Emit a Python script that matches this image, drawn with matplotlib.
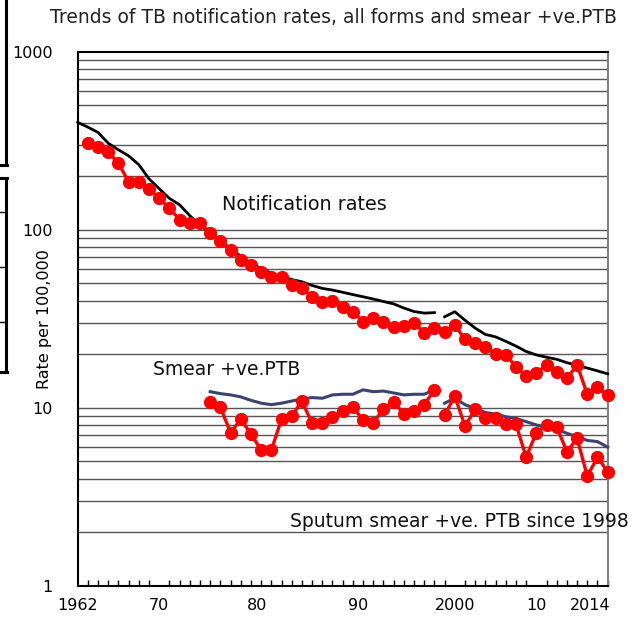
import matplotlib
matplotlib.use('Agg')
import matplotlib.pyplot as plt
from matplotlib.ticker import FixedLocator, MultipleLocator, NullFormatter
from matplotlib.lines import Line2D

# notification rates, all forms (black line, two definitions)
years_all_old = list(range(1962, 1998))
rate_all_old = [401, 377, 352, 306, 281, 260, 232, 193, 170, 150,
                138, 120, 106, 96, 87, 78, 71, 65, 60.5, 57,
                54.5, 52.5, 51.0, 48.6, 46.8, 45.8, 44.5, 43.2, 42.0, 40.8,
                39.5, 38.3, 36.3, 34.7, 34.0, 34.2]
years_all_new = list(range(1998, 2015))
rate_all_new = [32.4, 34.6, 31.0, 28.0, 25.8, 25.0, 23.6, 22.2, 20.7, 19.8,
                19.2, 18.7, 17.9, 17.3, 16.7, 16.1, 15.5]

# notification rates, all forms (red dots)
years_red_all = list(range(1963, 2015))
red_all = [306, 292, 274, 236, 186, 186, 169, 150, 132, 114,
           109, 109, 96, 86.7, 76.9, 67.6, 63.4, 58.1, 54.5, 54.5,
           48.9, 46.9, 42.1, 39.0, 39.8, 37.0, 34.6, 30.4, 31.8, 30.4,
           28.5, 28.7, 30.1, 26.4, 27.9, 26.7, 29.2, 24.2, 23.0, 22.0,
           20.0, 19.8, 17.0, 15.1, 15.6, 17.4, 15.9, 14.6, 17.4, 11.9,
           13.0, 11.8]

# smear +ve PTB (blue line)
years_sm_old = list(range(1975, 1998))
blue_sm_old = [12.3, 12.0, 11.8, 11.5, 11.0, 10.6, 10.4, 10.6, 10.9, 11.2,
               11.4, 11.3, 11.8, 11.9, 11.9, 12.6, 12.3, 12.4, 12.1, 11.8,
               11.9, 11.9, 12.6]
years_sm_new = list(range(1998, 2015))
blue_sm_new = [10.6, 11.3, 10.4, 9.9, 9.4, 9.2, 8.9, 8.7, 8.35, 8.0,
               7.76, 7.55, 7.18, 6.87, 6.55, 6.45, 6.0]

# smear +ve PTB (red dots)
red_sm_old = [10.7, 10.05, 7.24, 8.61, 7.12, 5.78, 5.78, 8.61, 8.98, 10.9,
              8.17, 8.25, 8.83, 9.62, 10.05, 8.53, 8.25, 9.79, 10.8, 9.20,
              9.62, 10.4, 12.6]
red_sm_new = [9.09, 11.6, 7.89, 9.8, 8.7, 8.8, 8.1, 8.1, 5.26, 7.24,
              8.0, 7.8, 5.66, 6.72, 4.13, 5.26, 4.37]

xtick_pos = [1962, 1970, 1979.6, 1989.5, 1999, 2007, 2012.3]
xtick_labels = ['1962', '70', '80', '90', '2000', '10', '2014']
ytick_vals = [1, 10, 100, 1000]
ytick_labels = ['1', '10', '100', '1000']

fig = plt.figure(figsize=(6.4, 6.18), dpi=100)
ax = fig.add_axes([0.1214, 0.0523, 0.8281, 0.864])

ax.set_yscale('log')
ax.set_ylim(1, 1000)
ax.set_xlim(1962, 2014)

# horizontal grid on every minor level
for dec in [1, 10, 100]:
    for m in range(1, 10):
        v = dec * m
        if v == 1:
            continue
        ax.axhline(v, color='#555555', lw=1.0, zorder=0)

red = '#ff0000'
navy = '#3d4270'

ax.plot(years_all_old, rate_all_old, color='black', lw=2.0, zorder=3,
        clip_on=False)
ax.plot(years_all_new, rate_all_new, color='black', lw=2.0, zorder=3,
        clip_on=False)
ax.plot(years_red_all, red_all, color=red, lw=2.4, marker='o',
        markersize=8.5, zorder=4, clip_on=False)

ax.plot(years_sm_old, blue_sm_old, color=navy, lw=2.2, zorder=3)
ax.plot(years_sm_new, blue_sm_new, color=navy, lw=2.2, zorder=3,
        clip_on=False)
ax.plot(years_sm_old, red_sm_old, color=red, lw=2.4, marker='o',
        markersize=8.5, zorder=4)
ax.plot(years_sm_new, red_sm_new, color=red, lw=2.4, marker='o',
        markersize=8.5, zorder=4, clip_on=False)

# axes look
for side in ['left', 'bottom', 'top']:
    ax.spines[side].set_color('black')
    ax.spines[side].set_linewidth(1.5)
ax.spines['right'].set_color('#808080')
ax.spines['right'].set_linewidth(1.5)

ax.yaxis.set_major_locator(FixedLocator(ytick_vals))
ax.yaxis.set_minor_locator(FixedLocator([]))
ax.set_yticklabels(ytick_labels)
ax.yaxis.set_minor_formatter(NullFormatter())
ax.tick_params(axis='y', which='major', length=0, pad=18, labelsize=11.5)

ax.xaxis.set_major_locator(FixedLocator(xtick_pos))
ax.set_xticklabels(xtick_labels)
ax.xaxis.set_minor_locator(MultipleLocator(1))
ax.tick_params(axis='x', which='major', length=0, pad=9, labelsize=11.5)
ax.tick_params(axis='x', which='minor', direction='in', length=4,
               width=1, color='black')

ax.set_ylabel('Rate per 100,000', fontsize=11.5, labelpad=4)
ax.yaxis.set_label_coords(-0.048, 0.5)

fig.text(0.521, 0.972, 'Trends of TB notification rates, all forms and smear +ve.PTB',
         ha='center', va='center', fontsize=13.5, color='#222222')

ax.text(1976.2, 138, 'Notification rates', fontsize=13.8, va='center',
        ha='left', color='#111111')
ax.text(1969.4, 16.3, 'Smear +ve.PTB', fontsize=13.5, va='center',
        ha='left', color='#111111')
ax.text(1982.8, 2.28, 'Sputum smear +ve. PTB since 1998', fontsize=13.5,
        va='center', ha='left', color='#111111', clip_on=False)

# fragments of neighbouring boxes at the left edge
H = 618.0
def px_line(x0, y0, x1, y1, lw=2.2):
    fig.add_artist(Line2D([x0 / 640, x1 / 640], [1 - y0 / H, 1 - y1 / H],
                          color='black', lw=lw))

px_line(5.5, 0, 5.5, 165)
px_line(0, 165, 6.5, 165)
px_line(0, 178, 6.5, 178)
px_line(5.5, 178, 5.5, 372)
px_line(0, 372, 6.5, 372)
for yy in [212, 267, 322]:
    px_line(0, yy, 5.5, yy, lw=1.0)

fig.savefig('out.png', dpi=100)
